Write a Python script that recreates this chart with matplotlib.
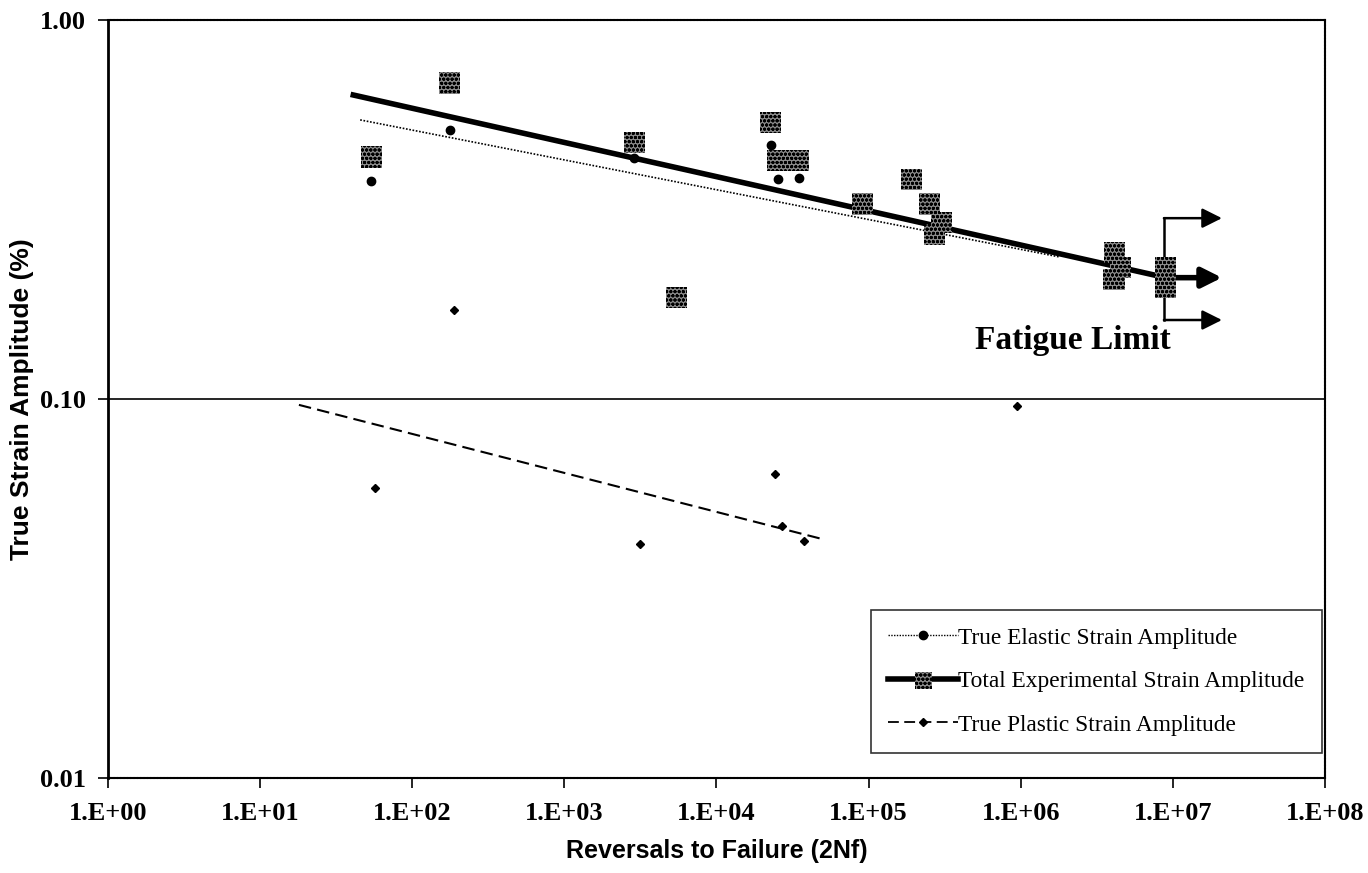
#!/usr/bin/env python3

import matplotlib.pyplot as plt
import numpy as np
from matplotlib.lines import Line2D
from matplotlib.legend_handler import HandlerTuple
from matplotlib.ticker import FixedLocator, NullLocator

# total experimental strain amplitude (squares)
total_x = [54, 175, 2890, 5450, 22650, 25200, 34600, 91400, 192000,
           252000, 302000, 272000, 4.15e6, 4.55e6, 4.1e6, 9.0e6, 9.0e6]
total_y = [0.435, 0.682, 0.474, 0.185, 0.535, 0.427, 0.427, 0.327, 0.380,
           0.327, 0.293, 0.272, 0.243, 0.222, 0.207, 0.222, 0.197]

# true elastic strain amplitude (dots)
elastic_x = [54, 177, 2890, 22650, 25500, 34600]
elastic_y = [0.376, 0.513, 0.432, 0.468, 0.380, 0.384]

# true plastic strain amplitude
plastic_x = [57, 189, 3160, 24400, 26800, 37400, 9.5e5]
plastic_y = [0.0582, 0.172, 0.0414, 0.0634, 0.0462, 0.0422, 0.096]

# fitted power law lines
total_fit_x = [41, 9.0e6]
total_fit_y = [0.634, 0.209]
elastic_fit_x = [45.5, 1.8e6]
elastic_fit_y = [0.545, 0.237]
plastic_fit_x = [18, 52000]
plastic_fit_y = [0.0965, 0.0425]

# fatigue limit bracket
fl_x = 8.73e6
fl_x_tip = 2.1e7
fl_y = [0.300, 0.209, 0.1616]

xticks = [1e0, 1e1, 1e2, 1e3, 1e4, 1e5, 1e6, 1e7, 1e8]
xticklabels = ['1.E+00', '1.E+01', '1.E+02', '1.E+03', '1.E+04',
               '1.E+05', '1.E+06', '1.E+07', '1.E+08']
yticks = [0.01, 0.1, 1.0]
yticklabels = ['0.01', '0.10', '1.00']


def main():
    fig = plt.figure(figsize=(13.68, 8.73), dpi=100)
    ax = fig.add_axes([0.0789, 0.1088, 0.8897, 0.8683])
    ax.set_xscale('log')
    ax.set_yscale('log')
    ax.set_xlim(1, 1e8)
    ax.set_ylim(0.01, 1.0)

    ax.plot(elastic_fit_x, elastic_fit_y, color='black', lw=1.2,
            linestyle=(0, (1, 1)), zorder=3)
    ax.plot(total_fit_x, total_fit_y, color='black', lw=4, zorder=3)
    ax.plot(plastic_fit_x, plastic_fit_y, color='black', lw=1.5,
            linestyle=(0, (6, 3)), zorder=3)

    ax.scatter(total_x, total_y, marker='s', s=230, facecolor='#8a8a8a',
               edgecolor='black', hatch='oooo', linewidths=0, zorder=4)
    ax.plot(elastic_x, elastic_y, 'o', color='black', ms=6, zorder=5)
    ax.plot(plastic_x, plastic_y, 'D', color='black', ms=4.5, zorder=5)

    # fatigue limit bracket and arrows
    ax.plot([fl_x, fl_x], [fl_y[0], fl_y[2]], color='black', lw=1.8, zorder=3)
    for i, y in enumerate(fl_y):
        lw = 4 if i == 1 else 1.8
        ax.annotate('', xy=(fl_x_tip, y), xytext=(fl_x, y),
                    arrowprops=dict(arrowstyle='-|>', color='black', lw=lw,
                                    mutation_scale=30, shrinkA=0, shrinkB=0),
                    zorder=3)
    ax.text(2.2e6, 0.143, 'Fatigue Limit', family='Liberation Serif',
            fontweight='bold', fontsize=24, ha='center', va='center')

    # axes styling
    ax.xaxis.set_major_locator(FixedLocator(xticks))
    ax.yaxis.set_major_locator(FixedLocator(yticks))
    ax.xaxis.set_minor_locator(NullLocator())
    ax.yaxis.set_minor_locator(NullLocator())
    ax.set_xticklabels(xticklabels, family='Liberation Serif',
                       fontweight='bold', fontsize=19)
    ax.set_yticklabels(yticklabels, family='Liberation Serif',
                       fontweight='bold', fontsize=19)
    ax.tick_params(axis='both', direction='out', length=7, width=1.2)
    ax.tick_params(axis='x', pad=10)
    ax.tick_params(axis='y', pad=9)
    ax.grid(axis='y', which='major', color='black', lw=1.2)
    for side in ['top', 'right', 'bottom']:
        ax.spines[side].set_linestyle((0, (1, 0.6)))
        ax.spines[side].set_linewidth(1.5)
    ax.spines['left'].set_linewidth(2)

    ax.set_xlabel('Reversals to Failure (2Nf)', family='Liberation Sans',
                  fontweight='bold', fontsize=18, labelpad=10)
    ax.set_ylabel('True Strain Amplitude (%)', family='Liberation Sans',
                  fontweight='bold', fontsize=19, labelpad=4)

    # legend
    h_el = Line2D([], [], color='black', lw=1, linestyle=(0, (1, 1)),
                  marker='o', ms=6)
    h_tot = Line2D([], [], color='black', lw=4)
    h_sq = ax.scatter([], [], marker='s', s=150, facecolor='#8a8a8a',
                      edgecolor='black', hatch='oooo', linewidths=0)
    h_pl = Line2D([], [], color='black', lw=1.3, linestyle=(0, (6, 3)),
                  marker='D', ms=4)
    leg = ax.legend([h_el, (h_tot, h_sq), h_pl],
                    ['True Elastic Strain Amplitude',
                     'Total Experimental Strain Amplitude',
                     'True Plastic Strain Amplitude'],
                    handler_map={tuple: HandlerTuple(ndivide=1)},
                    loc='lower right', bbox_to_anchor=(0.9975, 0.033),
                    prop={'family': 'Liberation Serif', 'size': 16.8},
                    frameon=True, fancybox=False, edgecolor='black',
                    handlelength=3.0, handletextpad=0.0, labelspacing=0.95,
                    borderpad=0.75, borderaxespad=0.0, scatterpoints=1)
    leg.get_frame().set_linewidth(1.2)

    fig.savefig('out.png', dpi=100)


if __name__ == "__main__":
    main()
